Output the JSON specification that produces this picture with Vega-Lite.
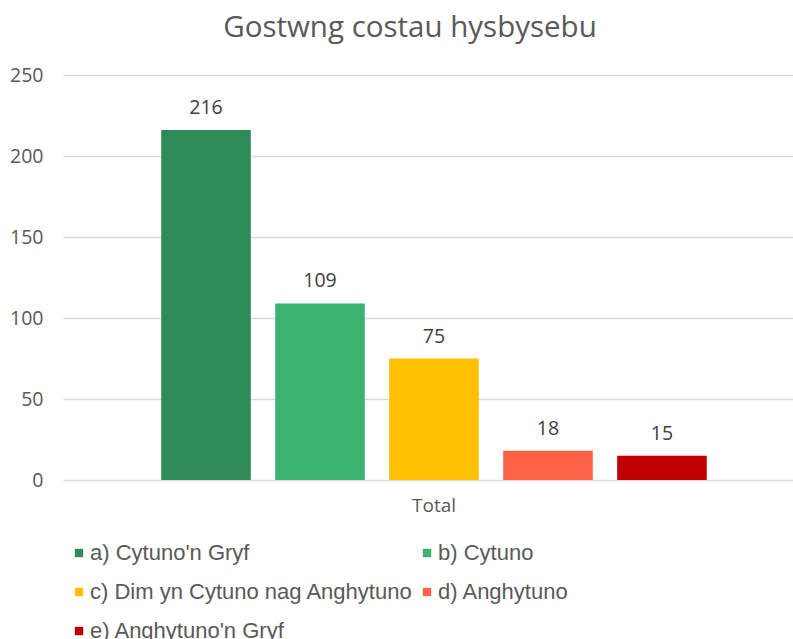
{
  "$schema": "https://vega.github.io/schema/vega-lite/v6.json",
  "width": 742,
  "height": 405,
  "autosize": {"type": "none"},
  "padding": {"left": 63, "top": 75, "right": 0, "bottom": 159},
  "background": "white",
  "title": {
    "text": "Gostwng costau hysbysebu",
    "font": "Open Sans",
    "fontSize": 29.5,
    "fontWeight": "normal",
    "color": "#595959",
    "anchor": "middle",
    "dx": -24,
    "offset": 22
  },
  "data": {
    "values": [
      {"group": "Total", "category": "a) Cytuno'n Gryf", "count": 216},
      {"group": "Total", "category": "b) Cytuno", "count": 109},
      {"group": "Total", "category": "c) Dim yn Cytuno nag Anghytuno", "count": 75},
      {"group": "Total", "category": "d) Anghytuno", "count": 18},
      {"group": "Total", "category": "e) Anghytuno'n Gryf", "count": 15}
    ]
  },
  "encoding": {
    "x": {
      "field": "group",
      "type": "nominal",
      "scale": {"paddingOuter": 0.18, "paddingInner": 0},
      "axis": {
        "title": null,
        "domain": false,
        "ticks": false,
        "tickSize": 0,
        "labelAngle": 0,
        "labelFont": "Open Sans",
        "labelFontSize": 19,
        "labelColor": "#595959",
        "labelPadding": 16
      }
    },
    "xOffset": {
      "field": "category",
      "type": "nominal",
      "sort": null,
      "scale": {"paddingInner": 0.214, "paddingOuter": 0}
    },
    "y": {
      "field": "count",
      "type": "quantitative",
      "scale": {"domain": [0, 250], "nice": false},
      "axis": {
        "title": null,
        "domain": false,
        "ticks": false,
        "tickSize": 0,
        "values": [0, 50, 100, 150, 200, 250],
        "labelFont": "Open Sans",
        "labelFontSize": 19.5,
        "labelColor": "#595959",
        "labelPadding": 20,
        "gridColor": "#d9d9d9",
        "gridWidth": 1.3
      }
    }
  },
  "layer": [
    {
      "mark": {"type": "bar"},
      "encoding": {
        "color": {
          "field": "category",
          "type": "nominal",
          "sort": null,
          "scale": {
            "domain": ["a) Cytuno'n Gryf", "b) Cytuno", "c) Dim yn Cytuno nag Anghytuno", "d) Anghytuno", "e) Anghytuno'n Gryf"],
            "range": ["#2E8B57", "#3CB371", "#FFC000", "#FF6347", "#C00000"]
          },
          "legend": {
            "orient": "none",
            "legendX": 5,
            "legendY": 467,
            "columns": 2,
            "direction": "horizontal",
            "title": null,
            "symbolType": "square",
            "symbolSize": 70,
            "symbolStrokeWidth": 0,
            "labelFont": "Liberation Sans",
            "labelFontSize": 22,
            "labelColor": "#595959",
            "labelOffset": 0,
            "columnPadding": 3,
            "rowPadding": 17,
            "padding": 0,
            "labelLimit": 0
          }
        }
      }
    },
    {
      "mark": {
        "type": "text",
        "dy": -16,
        "baseline": "alphabetic",
        "font": "Open Sans",
        "fontSize": 19.5,
        "color": "#404040"
      },
      "encoding": {
        "text": {"field": "count", "type": "quantitative"}
      }
    }
  ],
  "config": {"view": {"stroke": null}}
}
